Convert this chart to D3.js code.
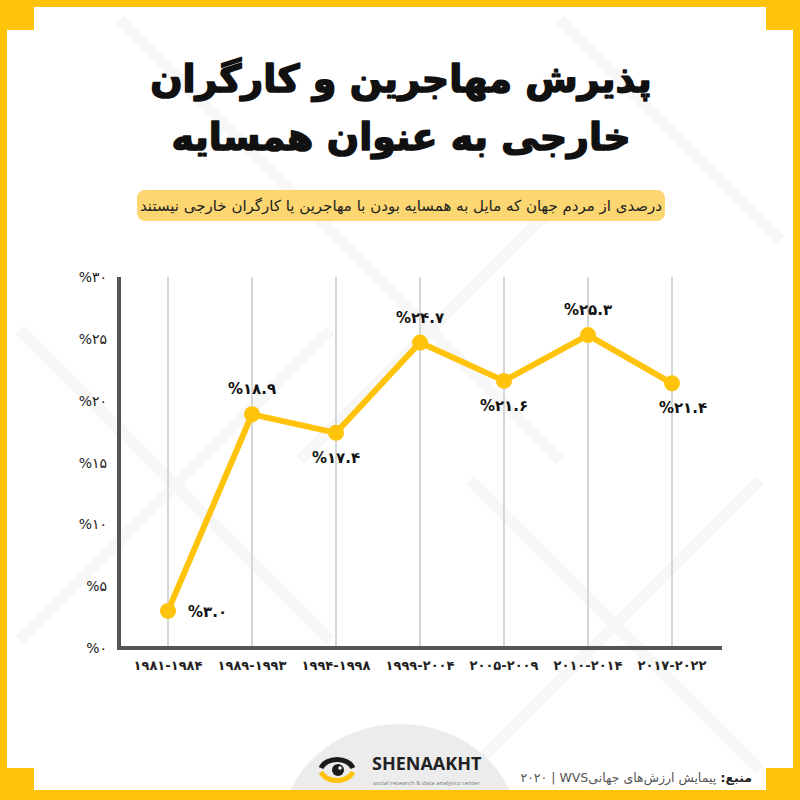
<!DOCTYPE html>
<html><head><meta charset="utf-8">
<script src="https://cdn.jsdelivr.net/npm/d3@7"></script>
<style>html,body{margin:0;padding:0;background:#fff}svg{display:block}</style>
</head><body>
<script>
const categories = ["۱۹۸۱-۱۹۸۴","۱۹۸۹-۱۹۹۳","۱۹۹۴-۱۹۹۸","۱۹۹۹-۲۰۰۴","۲۰۰۵-۲۰۰۹","۲۰۱۰-۲۰۱۴","۲۰۱۷-۲۰۲۲"];
const values = [3.0, 18.9, 17.4, 24.7, 21.6, 25.3, 21.4];
const valueLabels = ["%۳.۰","%۱۸.۹","%۱۷.۴","%۲۴.۷","%۲۱.۶","%۲۵.۳","%۲۱.۴"];
const labelPlacement = ["right","above","below","above","below","above","below"];
const yTickValues = [0,5,10,15,20,25,30];
const yTickLabels = ["%۰","%۵","%۱۰","%۱۵","%۲۰","%۲۵","%۳۰"];
const titleLines = ["پذیرش مهاجرین و کارگران","خارجی به عنوان همسایه"];
const subtitle = "درصدی از مردم جهان که مایل به همسایه بودن با مهاجرین یا کارگران خارجی نیستند";

const W = 800, H = 800;
const YEL = "#FFC30B";
const svg = d3.select("body").append("svg").attr("width", W).attr("height", H);

// frame
svg.append("rect").attr("width", W).attr("height", H).attr("fill", YEL);
svg.append("rect").attr("x", 7).attr("y", 7).attr("width", 786).attr("height", 783).attr("fill", "#fff");
[[0,0,34,30],[766,0,34,30],[0,768,34,32],[766,768,34,32]].forEach(r =>
  svg.append("rect").attr("x", r[0]).attr("y", r[1]).attr("width", r[2]).attr("height", r[3]).attr("fill", YEL));

// faint watermark diagonals
const wm = svg.append("g").attr("stroke", "#f7f7f7").attr("stroke-width", 12).attr("fill", "none");
[[[20,330],[330,640]],[[20,640],[330,330]],[[300,200],[560,460]],[[300,460],[560,200]],[[470,480],[760,770]],[[470,770],[760,480]],[[560,20],[780,240]],[[120,20],[300,200]]].forEach(s =>
  wm.append("line").attr("x1", s[0][0]).attr("y1", s[0][1]).attr("x2", s[1][0]).attr("y2", s[1][1]));

// title
const title = svg.append("g");
titleLines.forEach((t, i) => title.append("text")
  .attr("x", 401).attr("y", 92 + i * 58).attr("text-anchor", "middle").attr("direction", "rtl")
  .attr("font-family", "DejaVu Sans").attr("font-weight", "bold").attr("font-size", 38)
  .attr("fill", "#111").attr("stroke", "#111").attr("stroke-width", 1.6).attr("stroke-linejoin", "round").text(t));

// subtitle box
svg.append("rect").attr("x", 137).attr("y", 190).attr("width", 528).attr("height", 31).attr("rx", 8)
  .attr("fill", "#FCD670");
svg.append("text").attr("x", 401).attr("y", 211).attr("text-anchor", "middle").attr("direction", "rtl")
  .attr("font-family", "DejaVu Sans").attr("font-size", 15).attr("fill", "#222").text(subtitle);

// scales
const x = d3.scalePoint().domain(categories).range([168, 672]);
const y = d3.scaleLinear().domain([0, 30]).range([648, 277]);

// grid
svg.append("g").selectAll("line").data(categories).join("line")
  .attr("x1", d => x(d)).attr("x2", d => x(d)).attr("y1", y(30)).attr("y2", y(0))
  .attr("stroke", "#d6d6d6").attr("stroke-width", 2);

// axes
svg.append("line").attr("x1", 119).attr("x2", 119).attr("y1", y(30)).attr("y2", y(0) + 2)
  .attr("stroke", "#555").attr("stroke-width", 4);
svg.append("line").attr("x1", 117).attr("x2", 722).attr("y1", y(0)).attr("y2", y(0))
  .attr("stroke", "#555").attr("stroke-width", 4);

// y tick labels
svg.append("g").selectAll("text").data(yTickValues).join("text")
  .attr("x", 107).attr("y", d => y(d) + 5).attr("text-anchor", "end")
  .attr("font-family", "DejaVu Sans").attr("font-size", 14).attr("fill", "#222")
  .text((d, i) => yTickLabels[i]);

// x labels
svg.append("g").selectAll("text").data(categories).join("text")
  .attr("x", d => x(d)).attr("y", 670).attr("text-anchor", "middle")
  .attr("font-family", "DejaVu Sans").attr("font-weight", "bold").attr("font-size", 13).attr("fill", "#222")
  .text(d => d);

// line
const pts = categories.map((c, i) => [x(c), y(values[i])]);
svg.append("path").attr("d", d3.line()(pts)).attr("fill", "none")
  .attr("stroke", YEL).attr("stroke-width", 6).attr("stroke-linejoin", "round");
svg.append("g").selectAll("circle").data(pts).join("circle")
  .attr("cx", d => d[0]).attr("cy", d => d[1]).attr("r", 8).attr("fill", YEL);

// value labels
svg.append("g").selectAll("text").data(pts).join("text")
  .attr("x", (d, i) => labelPlacement[i] === "right" ? d[0] + 20 : (i === 6 ? d[0] + 11 : d[0]))
  .attr("y", (d, i) => labelPlacement[i] === "above" ? d[1] - 20 : labelPlacement[i] === "below" ? d[1] + 30 : d[1] + 6)
  .attr("text-anchor", (d, i) => labelPlacement[i] === "right" ? "start" : "middle")
  .attr("font-family", "DejaVu Sans").attr("font-weight", "bold").attr("font-size", 15).attr("fill", "#111")
  .text((d, i) => valueLabels[i]);

// footer logo background
svg.append("clipPath").attr("id", "fc").append("rect").attr("x", 0).attr("y", 0).attr("width", 800).attr("height", 790);
svg.append("ellipse").attr("cx", 400).attr("cy", 830).attr("rx", 118).attr("ry", 106)
  .attr("fill", "#ececec").attr("clip-path", "url(#fc)");

// logo icon
const lg = svg.append("g").attr("transform", "translate(337,770)");
lg.append("path").attr("d", "M-16,-2 A17,13 0 0 1 16,-2").attr("fill", "none").attr("stroke", "#1a1a1a").attr("stroke-width", 5);
lg.append("path").attr("d", "M-16,2 A17,13 0 0 0 16,2").attr("fill", "none").attr("stroke", YEL).attr("stroke-width", 5);
lg.append("circle").attr("r", 6).attr("cx", 1).attr("cy", 0).attr("fill", "#1a1a1a");
lg.append("circle").attr("r", 1.8).attr("cx", 3).attr("cy", -2).attr("fill", "#fff");
svg.append("text").attr("x", 372).attr("y", 770).attr("font-family", "Open Sans, DejaVu Sans").attr("font-weight", "bold")
  .attr("font-size", 18).attr("fill", "#222").text("SHENAAKHT");
svg.append("text").attr("x", 373).attr("y", 785).attr("font-family", "Open Sans, DejaVu Sans")
  .attr("font-size", 6).attr("fill", "#777").text("social research & data analytics center");

// source
const src = svg.append("text").attr("x", 752).attr("y", 782).attr("direction", "rtl").attr("text-anchor", "start")
  .attr("font-family", "DejaVu Sans").attr("font-size", 12.5).attr("fill", "#555");
src.append("tspan").attr("font-weight", "bold").attr("fill", "#222").text("منبع: ");
src.append("tspan").text("پیمایش ارزش‌های جهانیWVS\u200F | \u200F۲۰۲۰");
</script>
</body></html>
